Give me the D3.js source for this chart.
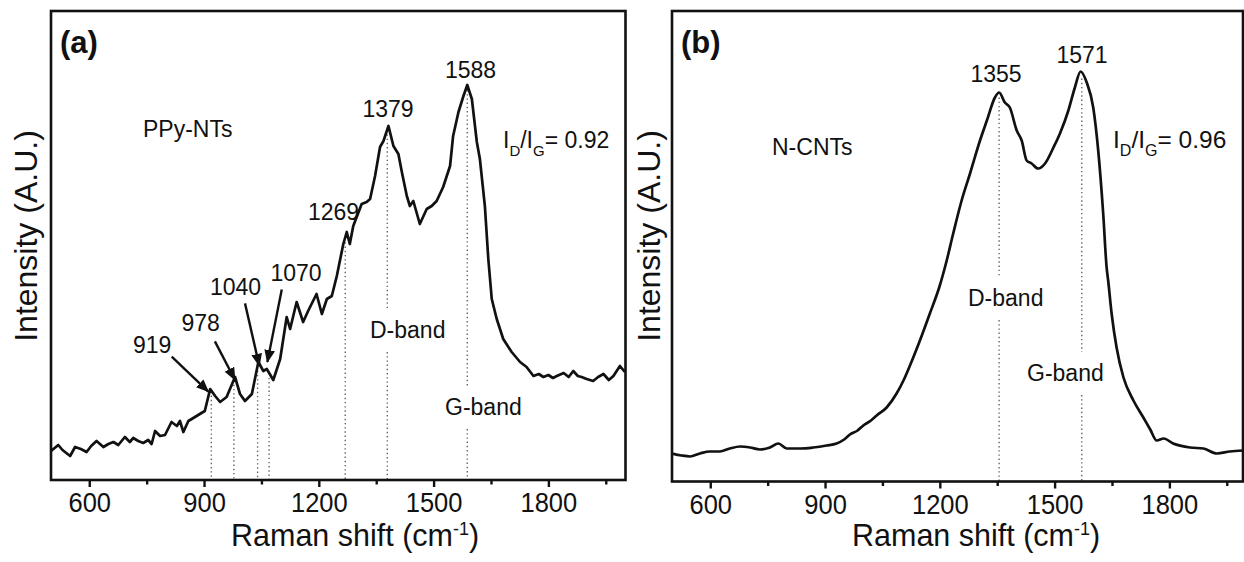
<!DOCTYPE html>
<html>
<head>
<meta charset="utf-8">
<script src="https://cdn.jsdelivr.net/npm/d3@7"></script>
<style>
  body { margin: 0; background: white; }
  svg text { font-family: "Liberation Sans", Arial, sans-serif; fill: #111; }
</style>
</head>
<body>
<svg id="chart" width="1244" height="562"></svg>
<script>
// ---------- data ----------
// (a) PPy-NTs spectrum, Raman shift (cm-1) vs intensity (A.U.)
const ppyShift = [500, 519, 530, 550, 563, 578, 593, 605, 619, 637, 650, 663, 676, 693, 706, 715, 728, 741, 754,
  763, 772, 785, 798, 815, 829, 837, 846, 859, 872, 889, 902, 916, 929, 942, 959, 981, 994, 1007, 1025,
  1042, 1055, 1064, 1081, 1099, 1116, 1125, 1142, 1159, 1172, 1194, 1208, 1221, 1234, 1247, 1264, 1273,
  1281, 1290, 1312, 1325, 1334, 1347, 1360, 1369, 1382, 1395, 1408, 1417, 1430, 1438, 1447, 1464, 1482,
  1495, 1508, 1525, 1543, 1551, 1565, 1578, 1588, 1600, 1613, 1621, 1634, 1643, 1652, 1665, 1682, 1704,
  1726, 1743, 1761, 1775, 1787, 1800, 1812, 1822, 1840, 1853, 1865, 1877, 1887, 1900, 1917, 1930, 1944,
  1958, 1970, 1987, 2000]
const ppyIntensity = [29, 35, 30, 24, 33, 31, 28, 34, 39, 33, 36, 38, 35, 43, 38, 42, 39, 37, 40,
  36, 49, 44, 45, 58, 54, 59, 48, 59, 62, 66, 69, 91, 84, 78, 83, 103, 86, 79, 86,
  118, 109, 111, 100, 121, 163, 151, 178, 158, 169, 186, 166, 181, 184, 204, 236, 248,
  236, 254, 276, 278, 281, 304, 333, 339, 354, 334, 326, 308, 284, 274, 279, 256, 271,
  274, 279, 293, 314, 344, 368, 384, 395, 381, 338, 321, 274, 221, 181, 161, 141, 128,
  118, 113, 104, 106, 103, 105, 102, 104, 107, 103, 109, 104, 103, 101, 99, 103, 106,
  100, 104, 114, 108]
const ppyPeaks = [919, 978, 1040, 1070, 1269, 1379, 1588]
const ppyRatio = "0.92"

// (b) N-CNTs spectrum
const cntShift = [500, 525, 547, 573, 599, 625, 651, 678, 704, 730, 756, 778, 800, 835, 869, 904, 930,
  950, 965, 985, 1000, 1020, 1035, 1061, 1087, 1105, 1122, 1148, 1174, 1200, 1218, 1235, 1257, 1279,
  1305, 1323, 1344, 1355, 1370, 1383, 1401, 1414, 1427, 1440, 1457, 1475, 1497, 1514, 1536, 1553, 1568,
  1584, 1601, 1614, 1627, 1636, 1640, 1649, 1662, 1680, 1706, 1732, 1750, 1767, 1785, 1810, 1854, 1889,
  1924, 1958, 1993]
const cntIntensity = [28, 26, 25, 28, 30, 30, 33, 35, 34, 32, 34, 38, 33, 33, 34, 36, 38,
  42, 47, 51, 56, 61, 66, 74, 88, 101, 116, 141, 168, 196, 221, 248, 281, 308,
  341, 361, 384, 389, 379, 374, 351, 341, 321, 318, 313, 318, 334, 348, 371, 394, 410,
  399, 374, 331, 268, 214, 201, 168, 134, 104, 81, 64, 52, 41, 43, 38, 34, 33,
  28, 30, 31]
const cntPeaks = [1355, 1571]
const cntRatio = "0.96"

const xTicks = [600, 900, 1200, 1500, 1800]
const xMinorTicks = [750, 1050, 1350, 1650, 1950]

// ---------- layout ----------
const svg = d3.select("#chart")
const defs = svg.append("defs")
defs.append("marker")
  .attr("id", "arrowhead")
  .attr("viewBox", "0 0 12 10")
  .attr("refX", 11).attr("refY", 5)
  .attr("markerUnits", "userSpaceOnUse")
  .attr("markerWidth", 13).attr("markerHeight", 11)
  .attr("orient", "auto")
  .append("path").attr("d", "M0,0 L12,5 L0,10 Z").attr("fill", "#111")

const panels = [
  {
    id: "a", left: 51, right: 625.5, top: 11, bottom: 480,
    shifts: ppyShift, vals: ppyIntensity, peaks: ppyPeaks, ratio: ppyRatio,
    curve: d3.curveLinear,
    tag: "(a)", sample: "PPy-NTs", samplePos: [143, 137],
    ratioPos: [503, 148], ratioSize: 23,
    yTitleX: 37,
    peakLabels: {
      919: [133, 353, "start"], 978: [181.5, 331, "start"], 1040: [210, 295, "start"],
      1070: [270.5, 281, "start"], 1269: [308, 220, "start"], 1379: [388, 117, "middle"],
      1588: [470.5, 78, "middle"]
    },
    // arrow tip offset from the peak, tail offset from the tip
    arrows: {
      919: {tip: [-3, 1], tail: [-36.6, -35]},
      978: {tip: [1, 0], tail: [-20, -38.4]},
      1040: {tip: [1.7, 0], tail: [-14.3, -62.4]},
      1070: {tip: [-1.7, -11], tail: [14.4, -72.4]}
    },
    bands: {1379: ["D-band", 370, 338], 1588: ["G-band", 445, 415]}
  },
  {
    id: "b", left: 672, right: 1243, top: 11, bottom: 481.5,
    shifts: cntShift, vals: cntIntensity, peaks: cntPeaks, ratio: cntRatio,
    curve: d3.curveMonotoneX,
    tag: "(b)", sample: "N-CNTs", samplePos: [772, 155],
    ratioPos: [1113, 148], ratioSize: 24.5,
    yTitleX: 660,
    peakLabels: {1355: [996, 81.5, "middle"], 1571: [1082, 63, "middle"]},
    arrows: {},
    bands: {1355: ["D-band", 968, 306], 1571: ["G-band", 1027, 381]}
  }
]

function intensityAt(shifts, vals, s){
  const i = d3.bisectLeft(shifts, s)
  if(i <= 0) return vals[0]
  if(i >= shifts.length) return vals[vals.length - 1]
  const t = (s - shifts[i-1]) / (shifts[i] - shifts[i-1])
  return vals[i-1] + t*(vals[i] - vals[i-1])
}

panels.forEach(p => {
  const x = d3.scaleLinear().domain([500, 2000]).range([p.left, p.left + 1500*0.3826])
  const y = d3.scaleLinear().domain([0, 470]).range([p.bottom, p.bottom - 470])
  const g = svg.append("g").attr("class", "panel-" + p.id)

  defs.append("clipPath").attr("id", "clip-" + p.id)
    .append("rect").attr("x", p.left).attr("y", p.top)
    .attr("width", p.right - p.left).attr("height", p.bottom - p.top)

  // dotted drop lines from each peak down to the axis (gap around band labels)
  p.peaks.forEach(pk => {
    const top = y(intensityAt(p.shifts, p.vals, pk)) + 5
    const segs = []
    if(p.bands[pk]){
      const base = p.bands[pk][2]
      segs.push([top, base - 29], [base + 14, p.bottom])
    } else {
      segs.push([top, p.bottom])
    }
    segs.forEach(s => {
      g.append("line")
        .attr("x1", x(pk)).attr("x2", x(pk))
        .attr("y1", s[0]).attr("y2", s[1])
        .attr("stroke", "#666").attr("stroke-width", 1.4)
        .attr("stroke-dasharray", "1.4 2.8")
    })
  })

  // spectrum
  const line = d3.line().x((d, i) => x(p.shifts[i])).y(d => y(d)).curve(p.curve)
  g.append("path")
    .datum(p.vals)
    .attr("clip-path", `url(#clip-${p.id})`)
    .attr("d", line)
    .attr("fill", "none").attr("stroke", "#111")
    .attr("stroke-width", 2.7).attr("stroke-linejoin", "round")

  // frame
  g.append("rect")
    .attr("x", p.left).attr("y", p.top)
    .attr("width", p.right - p.left).attr("height", p.bottom - p.top)
    .attr("fill", "none").attr("stroke", "#111").attr("stroke-width", 2.6)

  // x axis: major + minor ticks pointing outwards
  const ax = g.append("g").attr("transform", `translate(0,${p.bottom})`)
    .call(d3.axisBottom(x).tickValues(xTicks).tickSize(7).tickFormat(d3.format("d")))
  ax.select(".domain").remove()
  ax.selectAll(".tick line").attr("stroke", "#111").attr("stroke-width", 2.4)
  ax.selectAll(".tick text")
    .attr("y", 0).attr("dy", null)
    .attr("transform", "translate(0,32) scale(1,1.12)")
    .style("font-size", "25.5px").style("font-family", '"Liberation Sans", Arial, sans-serif')
    .attr("fill", "#111")
  const axMinor = g.append("g").attr("transform", `translate(0,${p.bottom})`)
    .call(d3.axisBottom(x).tickValues(xMinorTicks).tickSize(4.5).tickFormat(""))
  axMinor.select(".domain").remove()
  axMinor.selectAll(".tick line").attr("stroke", "#111").attr("stroke-width", 2.4)

  // axis titles
  const xt = g.append("text")
    .attr("x", p.left + 180).attr("y", 545.5)
    .style("font-size", "30.5px")
  xt.append("tspan").text("Raman shift (cm")
  xt.append("tspan").text("-1").style("font-size", "18px").attr("dy", -11)
  xt.append("tspan").text(")").attr("dy", 11)

  g.append("text")
    .attr("transform", `translate(${p.yTitleX},236) rotate(-90)`)
    .attr("text-anchor", "middle")
    .style("font-size", "32px")
    .text("Intensity (A.U.)")

  // panel tag and sample name
  g.append("text").attr("x", p.left + 9).attr("y", 53)
    .style("font-size", "31px").style("font-weight", "bold").text(p.tag)
  g.append("text").attr("x", p.samplePos[0]).attr("y", p.samplePos[1])
    .style("font-size", "23px").text(p.sample)

  // I_D/I_G ratio
  const rt = g.append("text").attr("x", p.ratioPos[0]).attr("y", p.ratioPos[1])
    .style("font-size", p.ratioSize + "px")
  const sub = Math.round(p.ratioSize*0.65) + "px"
  rt.append("tspan").text("I")
  rt.append("tspan").text("D").style("font-size", sub).attr("dy", 8)
  rt.append("tspan").text("/I").attr("dy", -8)
  rt.append("tspan").text("G").style("font-size", sub).attr("dy", 8)
  rt.append("tspan").text("= " + p.ratio).attr("dy", -8)

  // peak labels
  p.peaks.forEach(pk => {
    const pos = p.peakLabels[pk]
    g.append("text").attr("x", pos[0]).attr("y", pos[1])
      .attr("text-anchor", pos[2]).style("font-size", "23px").text(pk)
  })

  // band labels
  Object.values(p.bands).forEach(b => {
    g.append("text").attr("x", b[1]).attr("y", b[2])
      .style("font-size", "23px").text(b[0])
  })

  // arrows to small peaks
  Object.entries(p.arrows).forEach(([pk, a]) => {
    const s = +pk
    const tx = x(s) + a.tip[0]
    const ty = y(intensityAt(p.shifts, p.vals, s)) + a.tip[1]
    g.append("line")
      .attr("x1", tx + a.tail[0]).attr("y1", ty + a.tail[1])
      .attr("x2", tx).attr("y2", ty)
      .attr("stroke", "#111").attr("stroke-width", 2.4)
      .attr("marker-end", "url(#arrowhead)")
  })
})
</script>
</body>
</html>
